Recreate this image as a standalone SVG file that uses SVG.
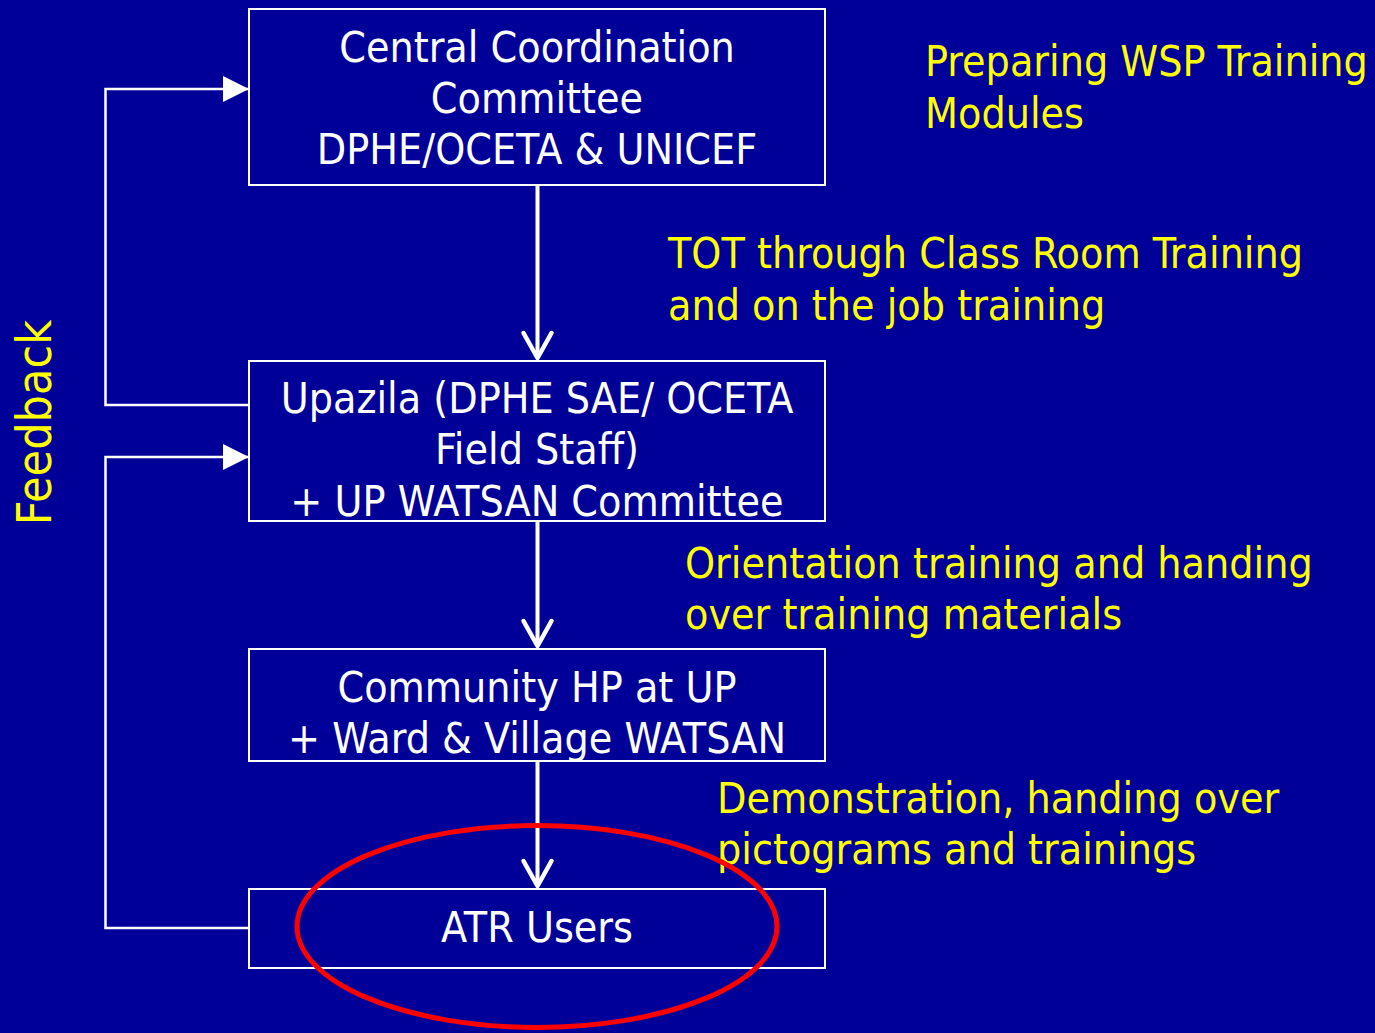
<svg xmlns="http://www.w3.org/2000/svg" width="1375" height="1033" viewBox="0 0 1375 1033">
<style>
.box{fill:none;stroke:#ffffff;stroke-width:2}
.nt{font-family:"DejaVu Sans Condensed","DejaVu Sans",sans-serif;font-stretch:condensed;font-size:42.5px;fill:#ffffff;text-anchor:middle}
.yt{font-family:"DejaVu Sans Condensed","DejaVu Sans",sans-serif;font-stretch:condensed;font-size:42.5px;fill:#ffff00}
.down{fill:none;stroke:#ffffff;stroke-width:4}
.head{fill:none;stroke:#ffffff;stroke-width:4.5;stroke-linecap:round;stroke-linejoin:round}
.fb{fill:none;stroke:#ffffff;stroke-width:2.5}
</style>
<defs>
<marker id="tri" markerUnits="userSpaceOnUse" markerWidth="26" markerHeight="28" refX="26" refY="13" orient="auto">
<path d="M0,0 L26,13 L0,26 Z" fill="#ffffff"/>
</marker>
</defs>
<rect x="0" y="0" width="1375" height="1033" fill="#000099"/>

<g id="n1">
<rect class="box" x="249" y="9" width="576" height="176"/>
<text class="nt" x="537" y="62">Central Coordination</text>
<text class="nt" x="537" y="113">Committee</text>
<text class="nt" x="537" y="164">DPHE/OCETA &amp; UNICEF</text>
</g>
<g id="n2">
<rect class="box" x="249" y="361" width="576" height="160"/>
<text class="nt" x="537" y="413">Upazila (DPHE SAE/ OCETA</text>
<text class="nt" x="537" y="464">Field Staff)</text>
<text class="nt" x="537" y="516">+ UP WATSAN Committee</text>
</g>
<g id="n3">
<rect class="box" x="249" y="649" width="576" height="112"/>
<text class="nt" x="537" y="702">Community HP at UP</text>
<text class="nt" x="537" y="753">+ Ward &amp; Village WATSAN</text>
</g>
<g id="n4">
<rect class="box" x="249" y="889" width="576" height="79"/>
<text class="nt" x="537" y="942">ATR Users</text>
</g>

<g id="connectors">
<line class="down" x1="537.5" y1="185" x2="537.5" y2="357"/>
<path class="head" d="M523.5,333 L537.5,358 L551.5,333"/>
<line class="down" x1="537.5" y1="521" x2="537.5" y2="645"/>
<path class="head" d="M523.5,621 L537.5,646 L551.5,621"/>
<line class="down" x1="537.5" y1="761" x2="537.5" y2="885"/>
<path class="head" d="M523.5,861 L537.5,886 L551.5,861"/>
<polyline class="fb" points="249,405 105.5,405 105.5,89 249,89" marker-end="url(#tri)"/>
<polyline class="fb" points="249,928 105.5,928 105.5,457 249,457" marker-end="url(#tri)"/>
</g>

<g id="labels">
<text class="yt" x="925" y="76">Preparing WSP Training</text>
<text class="yt" x="925" y="128">Modules</text>
<text class="yt" x="668" y="268">TOT through Class Room Training</text>
<text class="yt" x="668" y="320">and on the job training</text>
<text class="yt" x="685" y="578">Orientation training and handing</text>
<text class="yt" x="685" y="629">over training materials</text>
<text class="yt" x="717" y="813">Demonstration, handing over</text>
<text class="yt" x="717" y="864">pictograms and trainings</text>
<text class="yt" transform="translate(51,422.5) rotate(-90)" text-anchor="middle" style="font-size:48px">Feedback</text>
</g>

<ellipse id="highlight" cx="537" cy="926.5" rx="240" ry="101" fill="none" stroke="#ff0000" stroke-width="5"/>
</svg>
